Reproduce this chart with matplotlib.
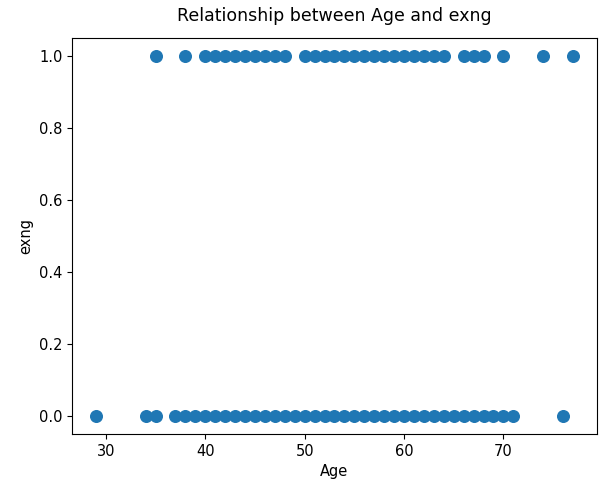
import matplotlib
matplotlib.use("Agg")
import matplotlib.pyplot as plt

# ages of patients with exercise induced angina (exng = 1)
ages_exng_1 = [35, 38, 40, 41, 42, 43, 44, 45, 46, 47, 48,
               50, 51, 52, 53, 54, 55, 56, 57, 58, 59, 60, 61, 62, 63, 64,
               66, 67, 68, 70, 74, 77]
# ages of patients without (exng = 0)
ages_exng_0 = [29, 34, 35, 37, 38, 39, 40, 41, 42, 43, 44, 45, 46, 47, 48,
               49, 50, 51, 52, 53, 54, 55, 56, 57, 58, 59, 60, 61, 62, 63,
               64, 65, 66, 67, 68, 69, 70, 71, 76]

age = ages_exng_1 + ages_exng_0
exng = [1] * len(ages_exng_1) + [0] * len(ages_exng_0)

fig = plt.figure(figsize=(6.01, 4.95), dpi=100)
ax = fig.add_axes([0.12, 0.123, 0.873, 0.80])
ax.scatter(age, exng, s=70, color="#1f77b4")

ax.set_xticks([30, 40, 50, 60, 70])
ax.set_title("Relationship between Age and exng", fontsize=12.5, pad=12)
ax.set_xlabel("Age", fontsize=10.5)
ax.set_ylabel("exng", fontsize=10.5)
ax.tick_params(labelsize=10.5)

fig.savefig("out.png", dpi=100)
